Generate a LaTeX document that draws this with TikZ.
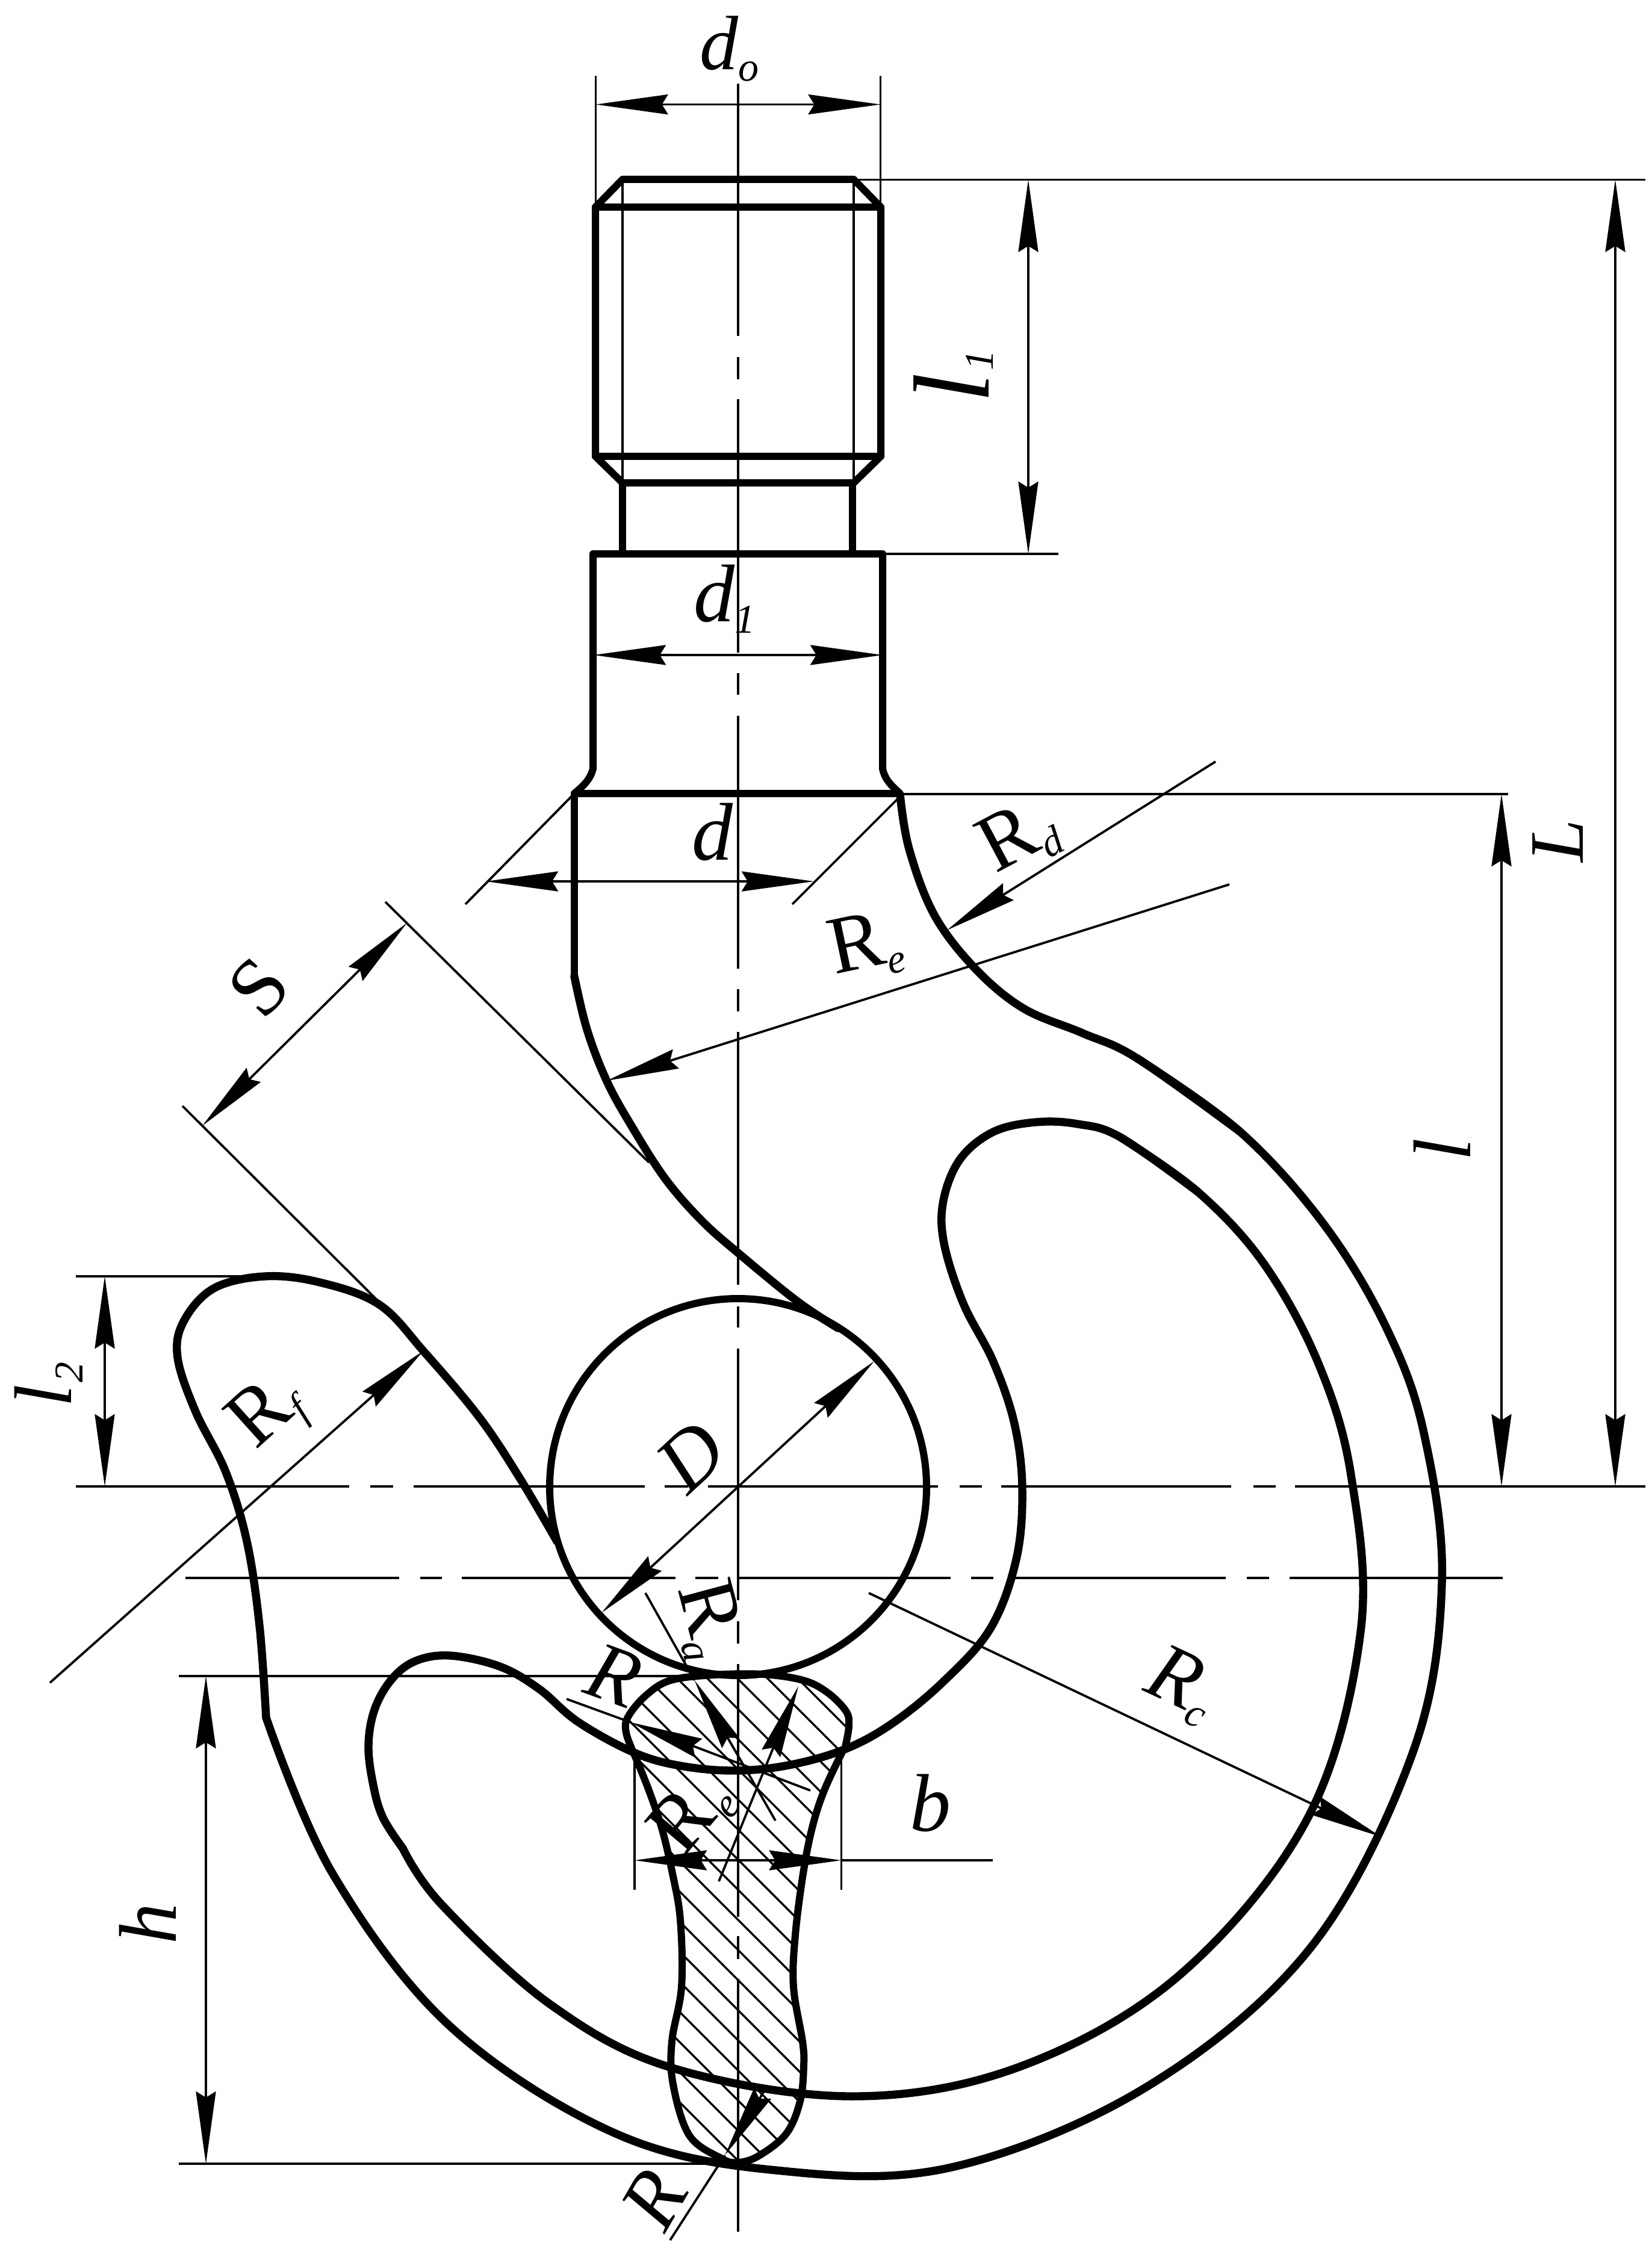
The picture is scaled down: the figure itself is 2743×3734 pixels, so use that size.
\documentclass[tikz,border=0pt]{standalone}
\usepackage{fontspec}
\setmainfont{Liberation Serif}
\usetikzlibrary{arrows.meta}
\newcommand{\subl}[1]{\raisebox{-4.75pt}{\fontsize{17}{17}\selectfont\itshape #1}}
\tikzset{
  x=0.25pt,y=-0.25pt,
  >={Stealth[length=30pt,width=8.25pt,inset=2.5pt]},
  outline/.style={line width=3.0pt,line join=round,line cap=round},
  hookl/.style={line width=3.35pt,line join=round,line cap=round},
  thinl/.style={line width=0.95pt},
  hatchl/.style={line width=0.85pt},
  lab/.style={inner sep=0pt,outer sep=0pt,font=\fontsize{32}{33}\selectfont},
  labbig/.style={inner sep=0pt,outer sep=0pt,font=\fontsize{34}{35}\selectfont},
}
\begin{document}
\begin{tikzpicture}
\useasboundingbox (0,0) rectangle (2743,3734);
% hatching
\begin{scope}
\clip plot[smooth,tension=.6] coordinates {(1403,2906)(1410,2867)(1405,2842)(1374,2811)(1334,2791)(1267,2781)(1186,2782)(1114,2791)(1073,2816)(1043,2852)(1040,2878)(1053,2913)}
 -- plot[smooth,tension=.6] coordinates {(1053,2913)(1076,2969)(1099,3036)(1117,3112)(1130,3189)(1132,3300)(1116,3391)(1118,3462)(1145,3547)(1198,3585)(1225,3592)(1260,3581)(1306,3544)(1329,3490)(1335,3432)(1333,3391)(1318,3300)(1321,3214)(1334,3112)(1349,3036)(1369,2974)(1400,2908)} -- cycle;
\foreach \k in {-10,...,20}{
  \pgfmathsetmacro{\yy}{2789+50*\k}
  \draw[hatchl] (826,\yy-400) -- (1626,\yy+400);
}
\end{scope}
% centre lines
\draw[thinl] (1226,139)--(1226,558) (1226,593)--(1226,630) (1226,663)--(1226,1084) (1226,1118)--(1226,1154) (1226,1189)--(1226,1609) (1226,1643)--(1226,1680) (1226,1714)--(1226,2134) (1226,2170)--(1226,2205) (1226,2240)--(1226,2658) (1226,2693)--(1226,2730) (1226,2764)--(1226,3184) (1226,3216)--(1226,3254) (1226,3287)--(1226,3707);
\draw[thinl] (126,2469)--(580,2469) (615,2469)--(653,2469) (687,2469)--(1071,2469) (1104,2469)--(1143,2469) (1176,2469)--(1558,2469) (1594,2469)--(1631,2469) (1663,2469)--(2045,2469) (2082,2469)--(2119,2469) (2151,2469)--(2733,2469);
\draw[thinl] (308,2621)--(663,2621) (698,2621)--(734,2621) (767,2621)--(1122,2621) (1155,2621)--(1193,2621) (1226,2621)--(1579,2621) (1613,2621)--(1650,2621) (1682,2621)--(2036,2621) (2071,2621)--(2108,2621) (2142,2621)--(2496,2621);
% thread
\draw[outline] (989,344)--(1034,298)--(1418,298)--(1463,344)--(1463,758)--(1418,802)--(1034,802)--(989,758)--cycle;
\draw[outline] (989,344)--(1463,344) (989,758)--(1463,758) (1034,802)--(1034,920) (1416,802)--(1416,920);
\draw[thinl] (1034,298)--(1034,802) (1418,298)--(1418,802);
% collar
\draw[outline] (985,920)--(985,1277) .. controls (980,1296) and (968,1306) .. (954,1318) -- (1495,1318) .. controls (1482,1306) and (1470,1296) .. (1466,1277) -- (1466,920) -- cycle;
% shank left
\draw[outline] (954,1318)--(954,1622);
\draw[hookl] plot[smooth,tension=.6] coordinates {(954,1622)(975,1710)(1008,1796)(1050,1872)(1105,1958)(1165,2027)(1227,2082)(1325,2162)(1392,2206)};
% bearing circle
\draw[outline] (1226,2470) circle [radius=313];
% outer contour
\draw[hookl] plot[smooth,tension=.6] coordinates {(1495,1320)(1510,1410)(1552,1520)(1620,1609)(1700,1675)(1798,1716)(1889,1758)(2060,1880)};
\draw[hookl] plot[smooth,tension=.6] coordinates {(1889,1758)(2060,1880)(2200,2035)(2303,2206)(2365,2380)(2395,2629)(2347,2910)(2177,3235)(1905,3466)(1580,3600)(1290,3605)(1023,3544)(748,3366)(553,3113)(442,2853)};
\draw[hookl] plot[smooth,tension=.6] coordinates {(442,2853)(431,2700)(410,2560)(375,2445)(325,2345)(295,2255)(305,2195)(355,2140)(440,2120)(531,2130)(630,2167)(705,2246)(796,2354)(862,2453)(925,2560)};
% inner contour
\draw[hookl] plot[smooth,tension=.6] coordinates {(1861,1889)(1990,1980)(2100,2100)(2190,2265)(2244,2450)(2260,2710)(2172,3020)(1960,3280)(1696,3432)(1419,3482)(1117,3435)(915,3330)(734,3164)(669,3070)};
\draw[hookl] plot[smooth,tension=.6] coordinates {(1990,1980)(1861,1889)(1790,1867)(1720,1864)(1650,1880)(1595,1925)(1567,1994)(1568,2065)(1600,2165)(1650,2262)(1685,2365)(1698,2473)(1688,2590)(1645,2705)(1565,2795)(1480,2864)(1402,2906)(1310,2932)(1220,2941)(1130,2933)(1053,2911)(960,2860)(895,2805)(830,2768)(748,2750)(690,2759)(650,2790)(622,2840)(612,2900)(620,2965)(636,3019)(669,3070)};
% section
\draw[outline] plot[smooth,tension=.6] coordinates {(1403,2906)(1410,2867)(1405,2842)(1374,2811)(1334,2791)(1267,2781)(1186,2782)(1114,2791)(1073,2816)(1043,2852)(1040,2878)(1053,2913)};
\draw[outline] plot[smooth,tension=.6] coordinates {(1053,2913)(1076,2969)(1099,3036)(1117,3112)(1130,3189)(1132,3300)(1116,3391)(1118,3462)(1145,3547)(1198,3585)(1225,3592)(1260,3581)(1306,3544)(1329,3490)(1335,3432)(1333,3391)(1318,3300)(1321,3214)(1334,3112)(1349,3036)(1369,2974)(1400,2908)};
% extension lines
\draw[thinl] (989.5,126)--(989.5,344) (1462.5,126)--(1462.5,344);
\draw[thinl] (1424,298.5)--(2733,298.5);
\draw[thinl] (1468,920)--(1758,920);
\draw[thinl] (1495,1319)--(2505,1319);
\draw[thinl] (954,1318)--(773,1502) (1495,1323)--(1316,1502);
\draw[thinl] (640,1498)--(1078,1931) (303,1837)--(630,2163);
\draw[thinl] (126,2120)--(398,2120);
\draw[thinl] (297,2784)--(1140,2784) (297,3594)--(1195,3594);
\draw[thinl] (1054,2913)--(1054,3139) (1397.5,2913)--(1397.5,3139);
% dimensions
\draw[thinl,<->] (989.5,173.5)--(1462.5,173.5);
\draw[thinl,<->] (1708,298.5)--(1708,920);
\draw[thinl,<->] (2683,298.5)--(2683,2469);
\draw[thinl,<->] (2494,1319)--(2494,2469);
\draw[thinl,<->] (986,1088)--(1466,1088);
\draw[thinl,<->] (807,1464)--(1352,1464);
\draw[thinl,<->] (676,1533)--(336,1870);
\draw[thinl,<->] (174,2120)--(174,2469);
\draw[thinl,<->] (342,2784)--(342,3594);
\draw[thinl,<->] (1452,2261)--(999.5,2678.6);
\draw[thinl,->] (2019,1265)--(1573,1545);
\draw[thinl,->] (2042,1469)--(1008,1795);
\draw[thinl,->] (83,2795)--(703,2244);
\draw[thinl,->] (1443,2646)--(2294,3051);
\draw[thinl,<->] (1054,3090)--(1397.5,3090);
\draw[thinl] (1397.5,3090)--(1648.5,3090);
% section radii
\draw[thinl] (1072,2646)--(1153.6,2791);
\draw[thinl,->] (1288,3024)--(1153.6,2791);
\draw[thinl] (941,2822)--(1048,2861);
\draw[thinl,->] (1346,2974)--(1048,2861);
\draw[thinl,->] (1194,3125)--(1326,2801);
\draw[thinl] (1113,3721)--(1204,3580);
\draw[thinl,->] (1270,3472)--(1204,3580);
% labels
\node[lab] (ldo) at (1211,81) {\itshape d\subl{o}};
\node[inner sep=0pt,rotate=90,font=\fontsize{45}{46}\selectfont\itshape] (lli) at (1580,644) {l};
\node[inner sep=0pt,rotate=90,font=\fontsize{17}{17}\selectfont\itshape] (lli1) at (1627,598) {1};
\node[labbig] (ldl) at (1203,995) {\itshape d\subl{1}};
\node[labbig] (ld) at (1183,1382) {\itshape d};
\node[labbig,rotate=28] (lrd) at (1692,1392) {R\subl{d}};
\node[labbig,rotate=12] (lre) at (1438,1572) {R\subl{e}};
\node[labbig,rotate=48] (ls) at (430,1640) {S};
\node[lab,rotate=90] (lL) at (2588,1397) {\itshape L};
\node[labbig,rotate=90] (ll) at (2395,1910) {\itshape l};
\node[labbig,rotate=90] (ll2) at (81,2300) {\itshape l\kern1pt\subl{2}};
\node[labbig,rotate=42] (lrf) at (447,2352) {R\subl{f}};
\node[labbig,rotate=43] (lD) at (1148,2420) {\itshape D};
\node[labbig,rotate=-75] (lra) at (1175,2690) {R\subl{a}};
\node[labbig,rotate=-20] (lr1) at (1020,2783) {\itshape R};
\node[labbig,rotate=50] (lre2) at (1150,3015) {R\kern2pt\subl{e}};
\node[labbig] (lb) at (1545,2995) {\itshape b};
\node[labbig,rotate=-25] (lrc) at (1962,2800) {\itshape R\subl{c}};
\node[labbig,rotate=90] (lh) at (245,3195) {\itshape h};
\node[labbig,rotate=60] (lr2) at (1087,3653) {\itshape R};
\end{tikzpicture}
\end{document}
